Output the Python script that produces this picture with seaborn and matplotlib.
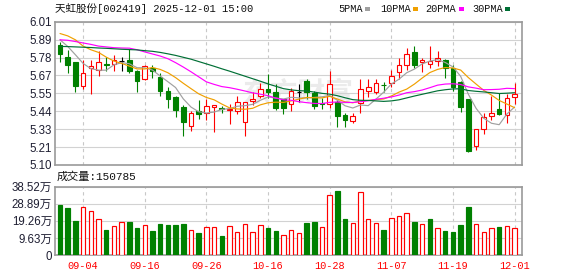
import numpy as np
import matplotlib
matplotlib.use("Agg")
import matplotlib.pyplot as plt
from matplotlib.patches import Rectangle
import seaborn as sns

# ---------------- data ----------------
dates = ["09-01", "09-02", "09-03", "09-04", "09-05", "09-08", "09-09", "09-10", "09-11", "09-12",
         "09-15", "09-16", "09-17", "09-18", "09-19", "09-22", "09-23", "09-24", "09-25", "09-26",
         "09-29", "09-30", "10-09", "10-10", "10-13", "10-14", "10-15", "10-16", "10-17", "10-20",
         "10-21", "10-22", "10-23", "10-24", "10-27", "10-28", "10-29", "10-30", "10-31", "11-03",
         "11-04", "11-05", "11-06", "11-07", "11-10", "11-11", "11-12", "11-13", "11-14", "11-17",
         "11-18", "11-19", "11-20", "11-21", "11-24", "11-25", "11-26", "11-27", "11-28", "12-01"]

open_ = [5.859, 5.788, 5.752, 5.601, 5.716, 5.702, 5.740, 5.744, 5.758, 5.769,
         5.699, 5.649, 5.716, 5.657, 5.569, 5.532, 5.469, 5.349, 5.443, 5.429,
         5.470, 5.460, 5.452, 5.440, 5.371, 5.505, 5.539, 5.585, 5.566, 5.518,
         5.486, 5.566, 5.633, 5.560, 5.496, 5.486, 5.503, 5.420, 5.381, 5.492,
         5.569, 5.565, 5.611, 5.622, 5.689, 5.737, 5.817, 5.752, 5.741, 5.762,
         5.769, 5.716, 5.628, 5.517, 5.219, 5.328, 5.410, 5.458, 5.418, 5.534]
high = [5.880, 5.832, 5.755, 5.769, 5.769, 5.821, 5.783, 5.800, 5.785, 5.836,
        5.702, 5.737, 5.733, 5.685, 5.597, 5.538, 5.479, 5.443, 5.510, 5.521,
        5.481, 5.475, 5.486, 5.539, 5.497, 5.566, 5.623, 5.679, 5.612, 5.520,
        5.587, 5.616, 5.644, 5.570, 5.527, 5.700, 5.512, 5.433, 5.433, 5.643,
        5.647, 5.647, 5.628, 5.706, 5.779, 5.842, 5.853, 5.779, 5.857, 5.821,
        5.770, 5.737, 5.632, 5.520, 5.330, 5.433, 5.538, 5.559, 5.549, 5.618]
low = [5.756, 5.685, 5.563, 5.580, 5.548, 5.668, 5.697, 5.695, 5.695, 5.685,
       5.563, 5.639, 5.653, 5.538, 5.465, 5.402, 5.282, 5.318, 5.391, 5.387,
       5.311, 5.433, 5.360, 5.423, 5.287, 5.484, 5.524, 5.528, 5.451, 5.423,
       5.440, 5.503, 5.518, 5.455, 5.454, 5.465, 5.339, 5.339, 5.366, 5.433,
       5.534, 5.548, 5.563, 5.597, 5.643, 5.706, 5.716, 5.689, 5.716, 5.731,
       5.653, 5.569, 5.437, 5.185, 5.196, 5.297, 5.385, 5.416, 5.366, 5.486]
close = [5.804, 5.737, 5.601, 5.687, 5.731, 5.756, 5.735, 5.769, 5.758, 5.697,
         5.632, 5.731, 5.695, 5.569, 5.517, 5.450, 5.370, 5.433, 5.422, 5.475,
         5.479, 5.455, 5.458, 5.497, 5.497, 5.516, 5.585, 5.564, 5.465, 5.465,
         5.570, 5.566, 5.566, 5.476, 5.486, 5.616, 5.413, 5.387, 5.408, 5.580,
         5.597, 5.618, 5.605, 5.668, 5.735, 5.806, 5.733, 5.769, 5.758, 5.777,
         5.716, 5.597, 5.469, 5.188, 5.328, 5.405, 5.433, 5.427, 5.528, 5.549]

ma5 = [5.895, 5.853, 5.800, 5.745, 5.712, 5.702, 5.702, 5.736, 5.750, 5.743,
       5.718, 5.717, 5.703, 5.665, 5.629, 5.592, 5.520, 5.468, 5.438, 5.430,
       5.436, 5.453, 5.458, 5.473, 5.477, 5.485, 5.511, 5.532, 5.525, 5.519,
       5.530, 5.526, 5.526, 5.529, 5.533, 5.542, 5.511, 5.476, 5.462, 5.481,
       5.477, 5.518, 5.562, 5.614, 5.645, 5.686, 5.709, 5.742, 5.760, 5.769,
       5.751, 5.723, 5.663, 5.549, 5.460, 5.397, 5.365, 5.356, 5.424, 5.468]
ma10 = [5.935, 5.920, 5.895, 5.855, 5.832, 5.815, 5.785, 5.760, 5.745, 5.728,
        5.710, 5.710, 5.719, 5.707, 5.686, 5.655, 5.619, 5.585, 5.552, 5.529,
        5.514, 5.487, 5.463, 5.456, 5.454, 5.460, 5.482, 5.495, 5.499, 5.498,
        5.507, 5.518, 5.529, 5.527, 5.526, 5.536, 5.519, 5.501, 5.495, 5.507,
        5.510, 5.515, 5.519, 5.538, 5.563, 5.582, 5.614, 5.652, 5.687, 5.707,
        5.719, 5.716, 5.703, 5.655, 5.614, 5.574, 5.544, 5.510, 5.487, 5.464]
ma20 = [5.895, 5.892, 5.884, 5.875, 5.866, 5.855, 5.850, 5.845, 5.843, 5.842,
        5.832, 5.818, 5.805, 5.792, 5.775, 5.750, 5.722, 5.692, 5.660, 5.628,
        5.612, 5.598, 5.591, 5.581, 5.570, 5.558, 5.550, 5.540, 5.525, 5.514,
        5.511, 5.502, 5.496, 5.491, 5.490, 5.498, 5.500, 5.498, 5.497, 5.502,
        5.508, 5.517, 5.524, 5.532, 5.544, 5.559, 5.566, 5.576, 5.591, 5.607,
        5.614, 5.616, 5.611, 5.596, 5.588, 5.578, 5.579, 5.581, 5.587, 5.585]
ma30 = [5.853, 5.852, 5.850, 5.848, 5.846, 5.843, 5.841, 5.838, 5.835, 5.833,
        5.831, 5.826, 5.822, 5.815, 5.806, 5.796, 5.784, 5.772, 5.757, 5.742,
        5.727, 5.711, 5.696, 5.680, 5.664, 5.648, 5.632, 5.615, 5.600, 5.585,
        5.577, 5.572, 5.570, 5.563, 5.555, 5.550, 5.540, 5.527, 5.515, 5.511,
        5.510, 5.507, 5.504, 5.507, 5.514, 5.526, 5.538, 5.549, 5.560, 5.571,
        5.578, 5.583, 5.584, 5.573, 5.568, 5.564, 5.559, 5.554, 5.556, 5.559]

volume = [28.2, 26.5, 19.4, 26.9, 24.8, 20.1, 14.1, 16.2, 18.4, 18.6,
          15.2, 16.7, 13.5, 17.5, 16.9, 16.9, 17.5, 14.1, 12.4, 15.8,
          15.6, 10.7, 16.2, 13.0, 17.3, 13.0, 16.7, 15.2, 13.5, 11.1,
          14.1, 12.2, 18.0, 18.6, 15.6, 33.7, 36.1, 20.3, 17.9, 35.4,
          20.1, 17.9, 14.1, 20.7, 21.8, 23.5, 18.6, 17.3, 20.3, 15.0,
          13.5, 13.0, 16.9, 27.1, 17.3, 12.8, 15.0, 15.8, 16.2, 15.0785]
vol_dir = list("GGGRRRGRRGGRGGGGGRGRRGRRRRRGGRRRGGRRGGRRRRGRRRGRGRGGGGRRRGRR")

price_labels = ["5.10", "5.21", "5.33", "5.44", "5.55", "5.67", "5.78", "5.89", "6.01"]
vol_ticks = [0, 9.63, 19.26, 28.89, 38.52]
vol_labels = ["0", "9.63万", "19.26万", "28.89万", "38.52万"]
ma_names = ["5PMA", "10PMA", "20PMA", "30PMA"]
title_text = "天虹股份[002419] 2025-12-01 15:00"
vol_title = "成交量:150785"

# ---------------- style ----------------
sns.set_theme(style="white")
plt.rcParams["font.family"] = ["Liberation Sans", "Noto Sans CJK SC"]

RED = "#ff0000"
GREEN = "#008000"
MA_COLORS = ["#a0a0a0", "#f0a000", "#ff00ff", "#006f35"]
GRID = "#d2d2d2"
SPINE = "#9a9a9a"
LBL = "#1e1e32"
MONO = ["Liberation Mono", "Noto Sans CJK SC"]

W, H = 578, 276
fig = plt.figure(figsize=(W / 100, H / 100), dpi=100)
L, R = 55, 522.3
ax = fig.add_axes([L / W, 1 - 165 / H, (R - L) / W, (165 - 21.7) / H])
axv = fig.add_axes([L / W, 1 - 255 / H, (R - L) / W, (255 - 186.7) / H])

x = np.arange(len(close))
o = np.array(open_); c = np.array(close); hi = np.array(high); lo = np.array(low)
up = c > o
doji = np.isclose(c, o)
cand_col = np.where(doji, "#000000", np.where(up, RED, GREEN))
face = np.where(up | doji, "white", GREEN)

# wicks and bodies
ax.vlines(x, lo, hi, colors=cand_col, lw=0.8, zorder=2)
ax.bar(x, np.abs(c - o), bottom=np.minimum(o, c), width=0.6,
       facecolor=face, edgecolor=cand_col, lw=0.8, zorder=3)

# moving averages via seaborn
for vals, col in zip([ma5, ma10, ma20, ma30], MA_COLORS):
    sns.lineplot(x=x, y=vals, color=col, lw=0.85, ax=ax, zorder=4, legend=False)

# volume
vup = np.array([d == "R" for d in vol_dir])
axv.bar(x, volume, width=0.58, facecolor=np.where(vup, "white", GREEN),
        edgecolor=np.where(vup, RED, GREEN), lw=0.85, zorder=3)

tick_idx = x[3::8]
for a in (ax, axv):
    a.set_xlim(-0.65, 60.0)
    a.set_xticks(tick_idx)
    a.xaxis.grid(True, color="#c8c8c8", lw=0.8, linestyle=(0, (3, 3)))
    a.yaxis.grid(True, color=GRID, lw=0.8, linestyle="-")
    a.set_axisbelow(True)
    for s in a.spines.values():
        s.set_color(SPINE)
        s.set_linewidth(1.2)
    a.tick_params(length=0, pad=2.2, labelsize=8.3, colors=LBL)
    a.set_xlabel(""); a.set_ylabel("")

ax.set_ylim(5.10, 6.01)
ax.set_yticks(np.linspace(5.10, 6.01, 9))
ax.set_yticklabels(price_labels)
ax.set_xticklabels([])

axv.set_ylim(0, 38.52)
axv.set_yticks(vol_ticks)
axv.set_yticklabels(vol_labels)
axv.set_xticklabels([dates[i] for i in tick_idx], color=RED, family=MONO, fontsize=7.4)
axv.tick_params(axis="x", pad=4.5)

# watermark
ax.text(0.52, 0.5, "东方财富", transform=ax.transAxes, ha="center", va="center",
        fontsize=20, color="#ebebeb", fontweight="bold", style="italic", zorder=0.5,
        family=["Noto Sans CJK SC"])

# title and volume caption
fig.text(55 / W, 1 - 8.5 / H, title_text, ha="left", va="center", fontsize=7.6,
         family=MONO, color="#111111")
fig.text(57 / W, 1 - 177 / H, vol_title, ha="left", va="center", fontsize=8.0,
         family=MONO, color="#111111")

# legend (text then swatch)
leg_x = [338, 380, 425, 472]
sw_x = [365, 413, 459, 505]
for name, col, tx, sx in zip(ma_names, MA_COLORS, leg_x, sw_x):
    fig.text(tx / W, 1 - 9 / H, name, ha="left", va="center", fontsize=7.4,
             family=MONO, color="#111111")
    fig.patches.append(Rectangle((sx / W, 1 - 11 / H), 5 / W, 4 / H,
                                 transform=fig.transFigure, facecolor=col,
                                 edgecolor="none"))

fig.savefig("out.png", dpi=100)
